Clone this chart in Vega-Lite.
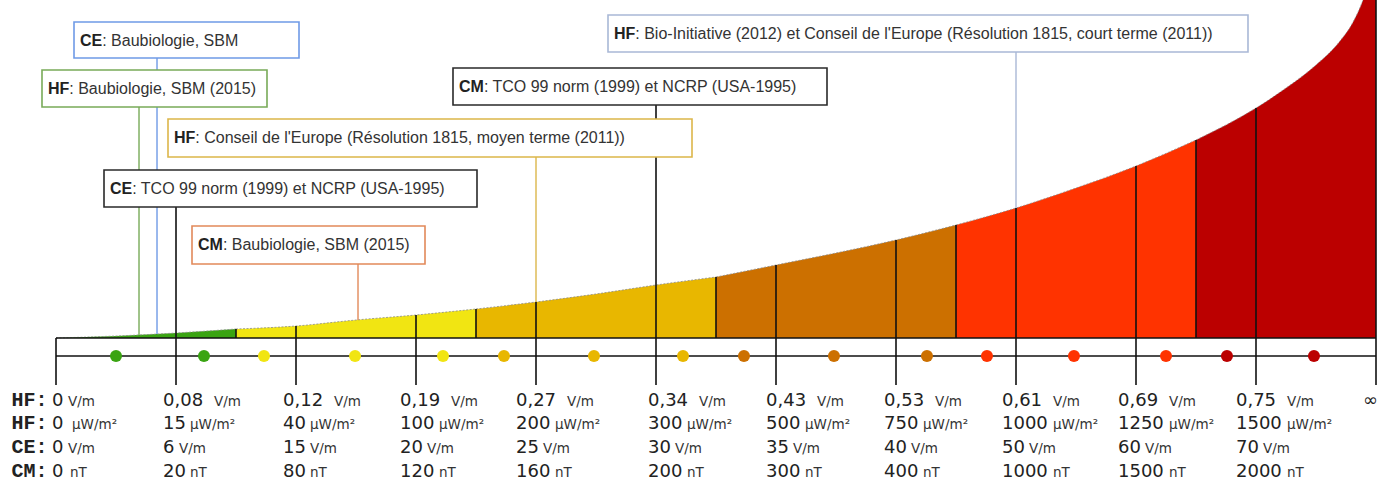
{
  "$schema": "https://vega.github.io/schema/vega-lite/v6.json",
  "width": 1385,
  "height": 489,
  "padding": 0,
  "autosize": {"type": "none"},
  "background": "white",
  "config": {"axis": {"disable": true}, "legend": {"disable": true}, "view": {"stroke": null}},
  "datasets": {
    "courbe": [
      {"zone": "vert", "pos": 0, "h": 0}, {"zone": "vert", "pos": 0.5, "h": 2}, {"zone": "vert", "pos": 1, "h": 5}, {"zone": "vert", "pos": 1.5, "h": 9},
      {"zone": "jaune", "pos": 1.5, "h": 9}, {"zone": "jaune", "pos": 2, "h": 12}, {"zone": "jaune", "pos": 2.5, "h": 18}, {"zone": "jaune", "pos": 3, "h": 23}, {"zone": "jaune", "pos": 3.5, "h": 29},
      {"zone": "or", "pos": 3.5, "h": 29}, {"zone": "or", "pos": 4, "h": 36}, {"zone": "or", "pos": 4.5, "h": 44}, {"zone": "or", "pos": 5, "h": 53}, {"zone": "or", "pos": 5.5, "h": 61},
      {"zone": "brun", "pos": 5.5, "h": 61}, {"zone": "brun", "pos": 6, "h": 73}, {"zone": "brun", "pos": 6.5, "h": 85}, {"zone": "brun", "pos": 7, "h": 98}, {"zone": "brun", "pos": 7.5, "h": 113},
      {"zone": "rouge", "pos": 7.5, "h": 113}, {"zone": "rouge", "pos": 8, "h": 130}, {"zone": "rouge", "pos": 8.5, "h": 150}, {"zone": "rouge", "pos": 9, "h": 172}, {"zone": "rouge", "pos": 9.5, "h": 198},
      {"zone": "bordeaux", "pos": 9.5, "h": 198}, {"zone": "bordeaux", "pos": 10, "h": 230}, {"zone": "bordeaux", "pos": 10.25, "h": 250}, {"zone": "bordeaux", "pos": 10.5, "h": 273}, {"zone": "bordeaux", "pos": 10.7, "h": 297}, {"zone": "bordeaux", "pos": 10.8, "h": 314}, {"zone": "bordeaux", "pos": 10.892, "h": 338}, {"zone": "bordeaux", "pos": 11, "h": 380}
    ],
    "horizontales": [{"niveau": 0}, {"niveau": -18}],
    "verticales": [
      {"pos": 0, "haut": 0, "bas": -47}, {"pos": 1, "haut": 131, "bas": -47}, {"pos": 2, "haut": 12, "bas": -47},
      {"pos": 3, "haut": 23, "bas": -47}, {"pos": 4, "haut": 36, "bas": -47}, {"pos": 5, "haut": 233, "bas": -47},
      {"pos": 6, "haut": 73, "bas": -47}, {"pos": 7, "haut": 98, "bas": -47}, {"pos": 8, "haut": 130, "bas": -47},
      {"pos": 9, "haut": 172, "bas": -47}, {"pos": 10, "haut": 230, "bas": -47}, {"pos": 11, "haut": 350, "bas": -47},
      {"pos": 1.5, "haut": 9, "bas": 0}, {"pos": 3.5, "haut": 29, "bas": 0}, {"pos": 5.5, "haut": 61, "bas": 0},
      {"pos": 7.5, "haut": 113, "bas": 0}, {"pos": 9.5, "haut": 198, "bas": 0}
    ],
    "renvois": [
      {"ref": "CE-Baubiologie", "pos": 0.8417, "haut": 280, "bas": 4},
      {"ref": "HF-Baubiologie", "pos": 0.6917, "haut": 231, "bas": 3},
      {"ref": "HF-Conseil-moyen", "pos": 4, "haut": 181, "bas": 36},
      {"ref": "CM-Baubiologie", "pos": 2.5167, "haut": 74, "bas": 18},
      {"ref": "HF-BioInitiative", "pos": 8, "haut": 286, "bas": 130}
    ],
    "cadres": [
      {"ref": "CE-Baubiologie", "prefixe": "CE", "texte": ": Baubiologie, SBM", "x1": 0.15, "x2": 2.025, "y1": 316, "y2": 280},
      {"ref": "HF-Baubiologie", "prefixe": "HF", "texte": ": Baubiologie, SBM (2015)", "x1": -0.1167, "x2": 1.7583, "y1": 268, "y2": 231},
      {"ref": "HF-Conseil-moyen", "prefixe": "HF", "texte": ": Conseil de l'Europe (Résolution 1815, moyen terme (2011))", "x1": 0.9333, "x2": 5.3, "y1": 219, "y2": 181},
      {"ref": "CE-TCO", "prefixe": "CE", "texte": ": TCO 99 norm (1999) et NCRP (USA-1995)", "x1": 0.4, "x2": 3.5083, "y1": 168, "y2": 131},
      {"ref": "CM-Baubiologie", "prefixe": "CM", "texte": ": Baubiologie, SBM (2015)", "x1": 1.1333, "x2": 3.075, "y1": 112, "y2": 74},
      {"ref": "CM-TCO", "prefixe": "CM", "texte": ": TCO 99 norm (1999) et NCRP (USA-1995)", "x1": 3.3083, "x2": 6.425, "y1": 270, "y2": 233},
      {"ref": "HF-BioInitiative", "prefixe": "HF", "texte": ": Bio-Initiative (2012) et Conseil de l'Europe (Résolution 1815, court terme (2011))", "x1": 4.6, "x2": 9.9333, "y1": 323, "y2": 286}
    ],
    "points": [
      {"zone": "vert", "pos": 0.5}, {"zone": "vert", "pos": 1.233},
      {"zone": "jaune", "pos": 1.733}, {"zone": "jaune", "pos": 2.492}, {"zone": "jaune", "pos": 3.225},
      {"zone": "or", "pos": 3.733}, {"zone": "or", "pos": 4.483}, {"zone": "or", "pos": 5.225},
      {"zone": "brun", "pos": 5.733}, {"zone": "brun", "pos": 6.483}, {"zone": "brun", "pos": 7.258},
      {"zone": "rouge", "pos": 7.758}, {"zone": "rouge", "pos": 8.483}, {"zone": "rouge", "pos": 9.25},
      {"zone": "bordeaux", "pos": 9.758}, {"zone": "bordeaux", "pos": 10.483}
    ],
    "lignes": [
      {"grandeur": "HF:", "y": -68}, {"grandeur": "HF:", "y": -91}, {"grandeur": "CE:", "y": -115}, {"grandeur": "CM:", "y": -139}
    ],
    "valeurs": [
      {"val": "0", "unite": "V/m", "x": -0.0333, "xu": 0.1, "y": -68},
      {"val": "0,08", "unite": "V/m", "x": 0.8917, "xu": 1.3167, "y": -68},
      {"val": "0,12", "unite": "V/m", "x": 1.8917, "xu": 2.3167, "y": -68},
      {"val": "0,19", "unite": "V/m", "x": 2.8667, "xu": 3.2917, "y": -68},
      {"val": "0,27", "unite": "V/m", "x": 3.8333, "xu": 4.2583, "y": -68},
      {"val": "0,34", "unite": "V/m", "x": 4.9333, "xu": 5.3583, "y": -68},
      {"val": "0,43", "unite": "V/m", "x": 5.9167, "xu": 6.3417, "y": -68},
      {"val": "0,53", "unite": "V/m", "x": 6.9, "xu": 7.325, "y": -68},
      {"val": "0,61", "unite": "V/m", "x": 7.8833, "xu": 8.3083, "y": -68},
      {"val": "0,69", "unite": "V/m", "x": 8.85, "xu": 9.275, "y": -68},
      {"val": "0,75", "unite": "V/m", "x": 9.8333, "xu": 10.2583, "y": -68},
      {"val": "∞", "unite": "", "x": 10.8917, "xu": 11.0, "y": -68},
      {"val": "0", "unite": "μW/m²", "x": -0.0333, "xu": 0.1333, "y": -91},
      {"val": "15", "unite": "μW/m²", "x": 0.8917, "xu": 1.1167, "y": -91},
      {"val": "40", "unite": "μW/m²", "x": 1.8917, "xu": 2.1167, "y": -91},
      {"val": "100", "unite": "μW/m²", "x": 2.8667, "xu": 3.1917, "y": -91},
      {"val": "200", "unite": "μW/m²", "x": 3.8333, "xu": 4.1583, "y": -91},
      {"val": "300", "unite": "μW/m²", "x": 4.9333, "xu": 5.2583, "y": -91},
      {"val": "500", "unite": "μW/m²", "x": 5.9167, "xu": 6.2417, "y": -91},
      {"val": "750", "unite": "μW/m²", "x": 6.9, "xu": 7.225, "y": -91},
      {"val": "1000", "unite": "μW/m²", "x": 7.8833, "xu": 8.3083, "y": -91},
      {"val": "1250", "unite": "μW/m²", "x": 8.85, "xu": 9.275, "y": -91},
      {"val": "1500", "unite": "μW/m²", "x": 9.8333, "xu": 10.2583, "y": -91},
      {"val": "0", "unite": "V/m", "x": -0.0333, "xu": 0.1, "y": -115},
      {"val": "6", "unite": "V/m", "x": 0.8917, "xu": 1.025, "y": -115},
      {"val": "15", "unite": "V/m", "x": 1.8917, "xu": 2.1167, "y": -115},
      {"val": "20", "unite": "V/m", "x": 2.8667, "xu": 3.0917, "y": -115},
      {"val": "25", "unite": "V/m", "x": 3.8333, "xu": 4.0583, "y": -115},
      {"val": "30", "unite": "V/m", "x": 4.9333, "xu": 5.1583, "y": -115},
      {"val": "35", "unite": "V/m", "x": 5.9167, "xu": 6.1417, "y": -115},
      {"val": "40", "unite": "V/m", "x": 6.9, "xu": 7.125, "y": -115},
      {"val": "50", "unite": "V/m", "x": 7.8833, "xu": 8.1083, "y": -115},
      {"val": "60", "unite": "V/m", "x": 8.85, "xu": 9.075, "y": -115},
      {"val": "70", "unite": "V/m", "x": 9.8333, "xu": 10.0583, "y": -115},
      {"val": "0", "unite": "nT", "x": -0.0333, "xu": 0.1167, "y": -139},
      {"val": "20", "unite": "nT", "x": 0.8917, "xu": 1.1167, "y": -139},
      {"val": "80", "unite": "nT", "x": 1.8917, "xu": 2.1167, "y": -139},
      {"val": "120", "unite": "nT", "x": 2.8667, "xu": 3.1917, "y": -139},
      {"val": "160", "unite": "nT", "x": 3.8333, "xu": 4.1583, "y": -139},
      {"val": "200", "unite": "nT", "x": 4.9333, "xu": 5.2583, "y": -139},
      {"val": "300", "unite": "nT", "x": 5.9167, "xu": 6.2417, "y": -139},
      {"val": "400", "unite": "nT", "x": 6.9, "xu": 7.225, "y": -139},
      {"val": "1000", "unite": "nT", "x": 7.8833, "xu": 8.3083, "y": -139},
      {"val": "1500", "unite": "nT", "x": 8.85, "xu": 9.275, "y": -139},
      {"val": "2000", "unite": "nT", "x": 9.8333, "xu": 10.2583, "y": -139}
    ]
  },
  "layer": [
    {
      "data": {"name": "courbe"},
      "mark": {"type": "area", "interpolate": "monotone", "clip": true},
      "encoding": {
        "x": {"field": "pos", "type": "quantitative", "scale": {"domain": [-0.4667, 11.075], "nice": false, "zero": false}},
        "y": {"field": "h", "type": "quantitative", "scale": {"domain": [-151, 338], "nice": false, "zero": false}},
        "y2": {"datum": 0},
        "color": {"field": "zone", "type": "nominal", "scale": {"domain": ["vert", "jaune", "or", "brun", "rouge", "bordeaux"], "range": ["#3aa412", "#f1e512", "#e8b700", "#cc7000", "#ff3300", "#bb0000"]}}
      }
    },
    {
      "data": {"name": "courbe"},
      "mark": {"type": "line", "interpolate": "monotone", "clip": true, "color": "#8a8a8a", "strokeWidth": 0.8, "strokeDash": [2, 1.5]},
      "encoding": {
        "x": {"field": "pos", "type": "quantitative"},
        "y": {"field": "h", "type": "quantitative"},
        "detail": {"field": "zone", "type": "nominal"}
      }
    },
    {
      "data": {"name": "horizontales"},
      "mark": {"type": "rule", "color": "#111111", "strokeWidth": 1.6},
      "encoding": {
        "x": {"datum": 0},
        "x2": {"datum": 11},
        "y": {"field": "niveau", "type": "quantitative"}
      }
    },
    {
      "data": {"name": "verticales"},
      "mark": {"type": "rule", "color": "#111111", "strokeWidth": 1.6, "clip": true},
      "encoding": {
        "x": {"field": "pos", "type": "quantitative"},
        "y": {"field": "haut", "type": "quantitative"},
        "y2": {"field": "bas"}
      }
    },
    {
      "data": {"name": "renvois"},
      "mark": {"type": "rule", "strokeWidth": 1.4},
      "encoding": {
        "x": {"field": "pos", "type": "quantitative"},
        "y": {"field": "haut", "type": "quantitative"},
        "y2": {"field": "bas"},
        "stroke": {"field": "ref", "type": "nominal", "scale": {"domain": ["CE-Baubiologie", "HF-Baubiologie", "HF-Conseil-moyen", "CE-TCO", "CM-Baubiologie", "CM-TCO", "HF-BioInitiative"], "range": ["#6f9ae6", "#78aa58", "#dcb64a", "#2a2a2a", "#e2895a", "#2a2a2a", "#a9b8d6"]}}
      }
    },
    {
      "data": {"name": "cadres"},
      "mark": {"type": "rect", "fill": "white", "strokeWidth": 1.6},
      "encoding": {
        "x": {"field": "x1", "type": "quantitative"},
        "x2": {"field": "x2"},
        "y": {"field": "y1", "type": "quantitative"},
        "y2": {"field": "y2"},
        "stroke": {"field": "ref", "type": "nominal"}
      }
    },
    {
      "data": {"name": "cadres"},
      "mark": {"type": "text", "align": "left", "baseline": "middle", "dx": 6, "dy": 19, "font": "Liberation Sans", "fontSize": 16, "fontWeight": "bold", "color": "#222222"},
      "encoding": {
        "x": {"field": "x1", "type": "quantitative"},
        "y": {"field": "y1", "type": "quantitative"},
        "text": {"field": "prefixe"}
      }
    },
    {
      "data": {"name": "cadres"},
      "transform": [{"filter": "datum.prefixe === 'CE'"}],
      "mark": {"type": "text", "align": "left", "baseline": "middle", "dx": 28.2, "dy": 19, "font": "Liberation Sans", "fontSize": 16, "color": "#333333"},
      "encoding": {
        "x": {"field": "x1", "type": "quantitative"},
        "y": {"field": "y1", "type": "quantitative"},
        "text": {"field": "texte"}
      }
    },
    {
      "data": {"name": "cadres"},
      "transform": [{"filter": "datum.prefixe === 'HF'"}],
      "mark": {"type": "text", "align": "left", "baseline": "middle", "dx": 27.3, "dy": 19, "font": "Liberation Sans", "fontSize": 16, "color": "#333333"},
      "encoding": {
        "x": {"field": "x1", "type": "quantitative"},
        "y": {"field": "y1", "type": "quantitative"},
        "text": {"field": "texte"}
      }
    },
    {
      "data": {"name": "cadres"},
      "transform": [{"filter": "datum.prefixe === 'CM'"}],
      "mark": {"type": "text", "align": "left", "baseline": "middle", "dx": 30.9, "dy": 19, "font": "Liberation Sans", "fontSize": 16, "color": "#333333"},
      "encoding": {
        "x": {"field": "x1", "type": "quantitative"},
        "y": {"field": "y1", "type": "quantitative"},
        "text": {"field": "texte"}
      }
    },
    {
      "data": {"name": "points"},
      "mark": {"type": "point", "filled": true, "opacity": 1, "size": 145},
      "encoding": {
        "x": {"field": "pos", "type": "quantitative"},
        "y": {"datum": -18},
        "color": {"field": "zone", "type": "nominal"}
      }
    },
    {
      "data": {"name": "lignes"},
      "mark": {"type": "text", "align": "left", "baseline": "alphabetic", "font": "Liberation Mono", "fontWeight": "bold", "fontSize": 20, "color": "#222222"},
      "encoding": {
        "x": {"datum": -0.37},
        "y": {"field": "y", "type": "quantitative"},
        "text": {"field": "grandeur"}
      }
    },
    {
      "data": {"name": "valeurs"},
      "mark": {"type": "text", "align": "left", "baseline": "alphabetic", "font": "DejaVu Sans", "fontSize": 18, "color": "#222222"},
      "encoding": {
        "x": {"field": "x", "type": "quantitative"},
        "y": {"field": "y", "type": "quantitative"},
        "text": {"field": "val"}
      }
    },
    {
      "data": {"name": "valeurs"},
      "mark": {"type": "text", "align": "left", "baseline": "alphabetic", "font": "DejaVu Sans", "fontSize": 13.5, "color": "#333333"},
      "encoding": {
        "x": {"field": "xu", "type": "quantitative"},
        "y": {"field": "y", "type": "quantitative"},
        "text": {"field": "unite"}
      }
    }
  ]
}
